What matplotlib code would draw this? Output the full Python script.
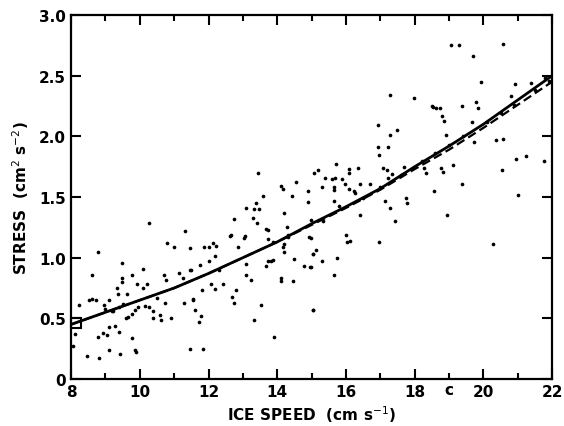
import numpy as np
import matplotlib
matplotlib.use("Agg")
from matplotlib import pyplot as plt

speed = [10.27, 11.33, 10.78, 10.99, 11.46, 8.79, 9.47, 10.09, 11.46, 8.61,
         9.76, 9.47, 9.49, 10.70, 10.75, 11.15, 11.25, 9.93, 10.22, 10.10,
         9.35, 9.36, 9.62, 8.52, 8.62, 8.72, 8.24, 9.10, 8.96, 8.98,
         9.50, 9.40, 9.21, 10.73, 11.29, 11.56, 9.96, 10.15, 10.28, 9.86,
         9.78, 9.65, 9.59, 10.37, 10.59, 10.39, 10.63, 10.90, 9.10, 9.28,
         8.11, 8.78, 8.94, 9.04, 9.39, 9.76, 9.85, 9.89, 9.10, 9.43,
         8.46, 8.81, 8.07, 11.46,
         13.44, 14.10, 14.17, 14.56, 15.07, 14.90, 14.44, 14.90, 13.58, 13.37,
         13.09, 13.32, 13.47, 14.19, 13.30, 13.40, 12.74, 13.66, 13.74, 14.29,
         12.66, 12.62, 13.06, 13.03, 13.74, 13.88, 14.32, 14.93, 11.88, 12.00,
         12.14, 12.23, 12.86, 14.20, 14.17, 14.21, 15.04, 11.75, 12.02, 12.19,
         11.48, 13.09, 13.74, 13.81, 13.88, 13.67, 14.49, 14.78, 14.95, 13.09,
         13.23, 14.10, 14.10, 14.46, 12.07, 12.19, 12.42, 11.82, 11.55, 12.80,
         12.67, 12.73, 11.61, 11.77, 11.73, 13.52, 13.33, 15.04, 13.90, 11.85,
         17.27, 17.99, 18.49, 16.92, 17.49, 17.29, 16.92, 16.96, 17.22, 15.70,
         15.18, 16.09, 16.09, 16.36, 17.08, 17.19, 17.33, 17.22, 17.68, 15.39,
         15.60, 15.67, 15.89, 15.97, 15.29, 15.65, 15.65, 16.09, 16.23, 16.26,
         16.40, 16.70, 18.27, 18.34, 18.55, 15.65, 17.14, 17.29, 17.74, 17.78,
         16.42, 17.43, 14.97, 15.33, 16.01, 16.04, 16.13, 16.96, 14.97, 15.14,
         15.03, 14.97, 15.31, 15.74, 15.65, 15.04,
         19.05, 19.29, 20.57, 19.70, 19.93, 21.37, 20.93, 20.79, 18.53, 18.63,
         18.75, 19.38, 19.79, 19.84, 18.80, 18.84, 19.68, 18.92, 19.74, 20.37,
         20.56, 19.12, 18.76, 18.82, 20.94, 21.25, 21.75, 20.53, 19.38, 21.02,
         18.95, 20.29,
         18.2, 18.6, 19.0, 19.4, 20.1, 20.5, 20.9, 21.5, 21.9, 21.8,
         16.5, 17.0, 17.6, 15.8, 14.3, 12.3, 10.5, 9.2]
stress = [1.29, 1.22, 1.12, 1.09, 1.08, 1.05, 0.96, 0.91, 0.90, 0.86,
          0.86, 0.83, 0.80, 0.86, 0.82, 0.87, 0.83, 0.78, 0.78, 0.75,
          0.75, 0.70, 0.70, 0.65, 0.66, 0.65, 0.61, 0.65, 0.61, 0.58,
          0.62, 0.59, 0.56, 0.63, 0.63, 0.65, 0.59, 0.60, 0.59, 0.57,
          0.54, 0.51, 0.50, 0.56, 0.53, 0.50, 0.49, 0.50, 0.43, 0.44,
          0.37, 0.35, 0.38, 0.36, 0.39, 0.34, 0.24, 0.22, 0.24, 0.21,
          0.19, 0.17, 0.27, 0.25,
          1.70, 1.59, 1.57, 1.62, 1.70, 1.55, 1.51, 1.46, 1.51, 1.45,
          1.41, 1.40, 1.40, 1.37, 1.33, 1.29, 1.32, 1.24, 1.23, 1.25,
          1.19, 1.18, 1.18, 1.16, 1.15, 1.13, 1.19, 1.17, 1.09, 1.09,
          1.12, 1.10, 1.09, 1.11, 1.09, 1.05, 1.03, 0.94, 0.97, 1.01,
          0.90, 0.95, 0.97, 0.97, 0.98, 0.93, 0.99, 0.93, 0.92, 0.86,
          0.82, 0.83, 0.81, 0.81, 0.78, 0.74, 0.78, 0.73, 0.66, 0.73,
          0.68, 0.63, 0.57, 0.52, 0.47, 0.61, 0.49, 0.57, 0.35, 0.25,
          2.34, 2.32, 2.25, 2.09, 2.05, 2.01, 1.91, 1.85, 1.91, 1.77,
          1.72, 1.73, 1.70, 1.74, 1.74, 1.72, 1.69, 1.66, 1.75, 1.66,
          1.65, 1.66, 1.65, 1.61, 1.58, 1.58, 1.56, 1.57, 1.55, 1.53,
          1.61, 1.61, 1.74, 1.70, 1.55, 1.47, 1.47, 1.41, 1.49, 1.45,
          1.35, 1.30, 1.31, 1.30, 1.19, 1.13, 1.14, 1.13, 1.16, 1.06,
          1.03, 0.92, 0.97, 1.00, 0.86, 0.57,
          2.75, 2.75, 2.76, 2.66, 2.45, 2.44, 2.43, 2.33, 2.24, 2.23,
          2.23, 2.25, 2.28, 2.23, 2.17, 2.13, 2.12, 2.01, 1.95, 1.97,
          1.98, 1.76, 1.74, 1.71, 1.81, 1.84, 1.80, 1.72, 1.61, 1.52,
          1.35, 1.11,
          1.80, 1.86, 1.93, 2.00, 2.12, 2.19, 2.26, 2.38, 2.46, 2.48,
          1.49, 1.58, 1.68, 1.43, 1.17, 0.90, 0.67, 0.56]

# fitted curves
fit_speed = [8, 9, 10, 11, 12, 13, 14, 15, 16, 17, 18, 19, 20, 21, 22]
fit_solid = [0.45, 0.55, 0.65, 0.75, 0.87, 1.00, 1.13, 1.28, 1.42, 1.57,
             1.75, 1.92, 2.10, 2.30, 2.50]
fit_dashed = [0.45, 0.55, 0.65, 0.75, 0.87, 1.00, 1.13, 1.27, 1.41, 1.56,
              1.73, 1.89, 2.07, 2.26, 2.45]

plt.rcParams['font.family'] = ['DejaVu Sans']
fig = plt.figure(figsize=(5.64, 4.27), dpi=100)
ax = fig.add_axes([0.126, 0.11, 0.853, 0.8525])

ax.scatter(speed, stress, s=7, color='black', linewidths=0, zorder=3)
ax.plot(fit_speed, fit_solid, color='black', lw=2.0, zorder=4)
ax.plot(fit_speed, fit_dashed, color='black', lw=1.6, ls=(0, (4, 2)), zorder=4)
ax.plot([8.15], [0.46], marker='s', ms=7, mfc='none', mec='black', mew=1.5,
        clip_on=False, zorder=5)

ax.set_xlim(8, 22)
ax.set_ylim(0, 3.0)
ax.set_xticks(range(8, 23, 2))
ax.set_xticks(range(9, 22, 2), minor=True)
ax.set_yticks([0, 0.5, 1.0, 1.5, 2.0, 2.5, 3.0])
ax.set_yticklabels(['0', '0.5', '1.0', '1.5', '2.0', '2.5', '3.0'])
ax.tick_params(which='both', direction='in', top=True, right=True,
               width=1.5, labelsize=11)
ax.tick_params(which='major', length=7)
ax.tick_params(which='minor', length=4)
for lab in ax.get_xticklabels() + ax.get_yticklabels():
    lab.set_fontweight('bold')
for s in ax.spines.values():
    s.set_linewidth(1.6)

ax.set_xlabel('ICE SPEED  (cm s$^{-1}$)', fontsize=11, fontweight='bold',
              labelpad=3)
ax.set_ylabel('STRESS  (cm$^{2}$ s$^{-2}$)', fontsize=11, fontweight='bold',
              labelpad=6)
ax.text(19.0, -0.09, 'c', fontsize=11, fontweight='bold', ha='center',
        va='center', clip_on=False)

plt.savefig('out.png', dpi=100)
